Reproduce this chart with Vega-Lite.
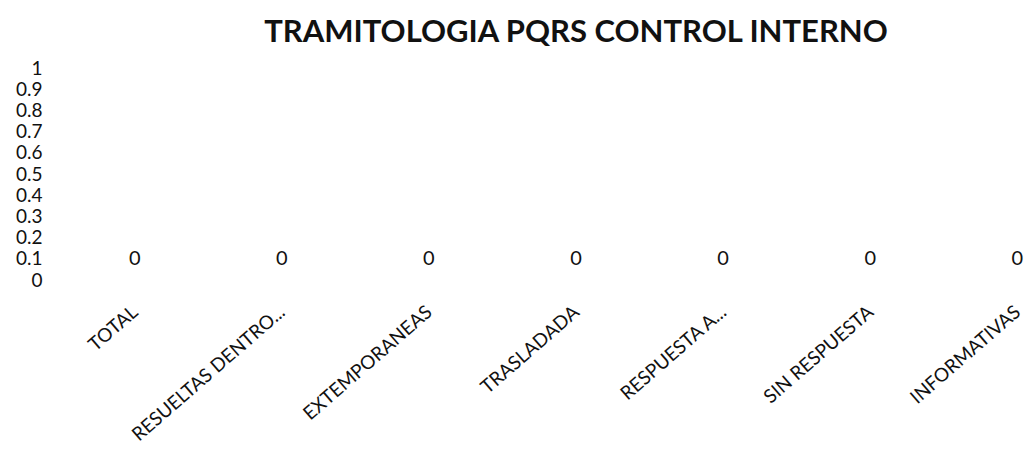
{
  "$schema": "https://vega.github.io/schema/vega-lite/v6.json",
  "autosize": "none",
  "width": 912,
  "height": 212,
  "padding": {"left": 120, "top": 68, "right": 1, "bottom": 170},
  "background": "white",
  "title": {
    "text": "TRAMITOLOGIA PQRS CONTROL INTERNO",
    "font": "Lato",
    "fontSize": 31,
    "fontWeight": "bold",
    "color": "#111111",
    "offset": 10,
    "anchor": "middle"
  },
  "config": {"view": {"stroke": null}},
  "data": {
    "values": [
      {"categoria": "TOTAL", "valor": 0},
      {"categoria": "RESUELTAS DENTRO...", "valor": 0},
      {"categoria": "EXTEMPORANEAS", "valor": 0},
      {"categoria": "TRASLADADA", "valor": 0},
      {"categoria": "RESPUESTA A...", "valor": 0},
      {"categoria": "SIN RESPUESTA", "valor": 0},
      {"categoria": "INFORMATIVAS", "valor": 0}
    ]
  },
  "encoding": {
    "x": {
      "field": "categoria",
      "type": "nominal",
      "sort": null,
      "scale": {"type": "point", "padding": 0.1},
      "axis": {
        "title": null,
        "domain": false,
        "ticks": false,
        "labelAngle": -41,
        "labelAlign": "right",
        "labelBaseline": "middle",
        "labelPadding": 29,
        "labelFont": "Lato",
        "labelFontSize": 19,
        "labelColor": "#111111",
        "labelOverlap": false,
        "labelLimit": 0
      }
    },
    "y": {
      "field": "valor",
      "type": "quantitative",
      "scale": {"domain": [0, 1], "nice": false},
      "axis": {
        "title": null,
        "domain": false,
        "ticks": false,
        "grid": false,
        "values": [0, 0.1, 0.2, 0.3, 0.4, 0.5, 0.6, 0.7, 0.8, 0.9, 1],
        "format": ".1~f",
        "offset": 76,
        "labelPadding": 2,
        "labelFont": "Lato",
        "labelFontSize": 19,
        "labelColor": "#111111"
      }
    }
  },
  "layer": [
    {"mark": {"type": "bar", "color": "#4472C4", "width": 60}},
    {
      "mark": {"type": "text", "font": "Lato", "fontSize": 20, "color": "#111111", "baseline": "bottom", "dy": -11},
      "encoding": {"text": {"field": "valor", "type": "quantitative"}}
    }
  ]
}
